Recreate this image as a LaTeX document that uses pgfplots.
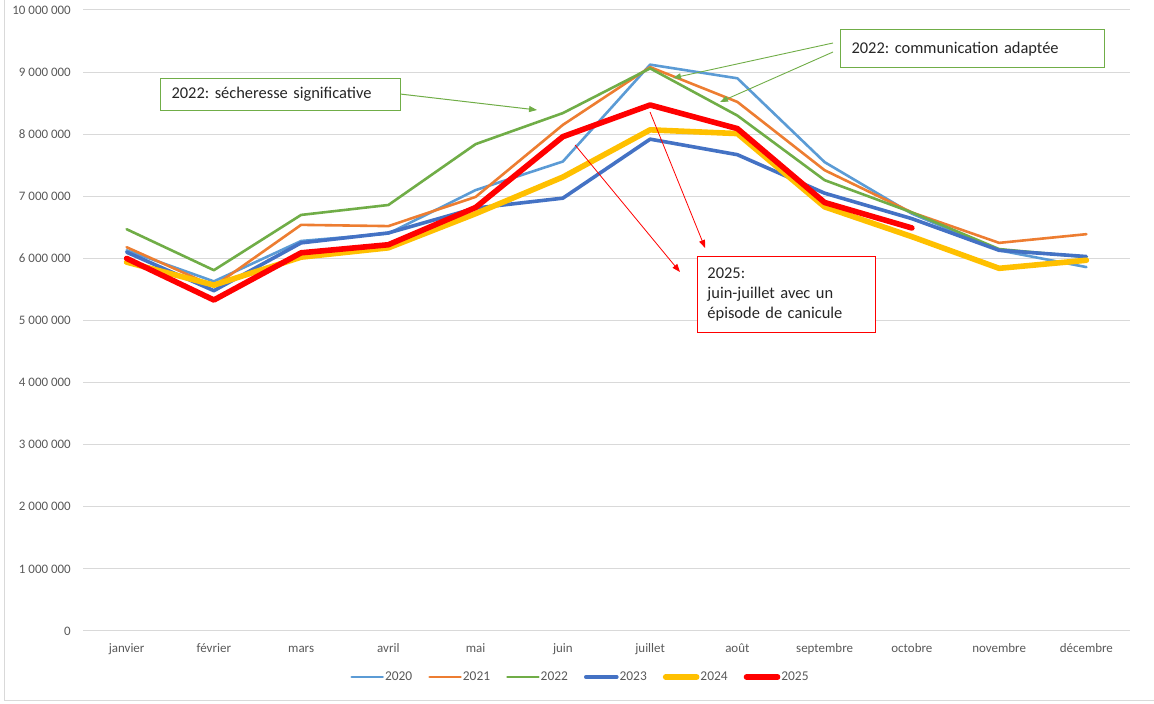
\documentclass[border=0pt]{standalone}
\usepackage{pgfplots}
\pgfplotsset{compat=1.18}
\usepackage{fontspec}
\setmainfont{Carlito}
\frenchspacing
\usetikzlibrary{arrows.meta}
\definecolor{c2020}{HTML}{5B9BD5}
\definecolor{c2021}{HTML}{ED7D31}
\definecolor{c2022}{HTML}{70AD47}
\definecolor{c2023}{HTML}{4472C4}
\definecolor{c2024}{HTML}{FFC000}
\definecolor{c2025}{HTML}{FF0000}
\definecolor{gridc}{HTML}{D9D9D9}
\definecolor{labc}{HTML}{595959}
\begin{document}
\begin{tikzpicture}
\useasboundingbox (0,0) rectangle (1154bp,704bp);
\draw[gridc, line width=1bp] (4.5bp,704bp) -- (4.5bp,3.5bp) -- (1154bp,3.5bp);
\begin{axis}[
  at={(83bp,73bp)}, anchor=south west,
  scale only axis, width=1047bp, height=621bp,
  xmin=-0.5, xmax=11.5, ymin=0, ymax=10000000,
  clip=false,
  axis line style={draw=none},
  major tick length=0pt,
  xtick={0,...,11},
  xticklabels={janvier,février,mars,avril,mai,juin,juillet,août,septembre,octobre,novembre,décembre},
  ytick={0,1000000,2000000,3000000,4000000,5000000,6000000,7000000,8000000,9000000,10000000},
  yticklabels={0,1 000 000,2 000 000,3 000 000,4 000 000,5 000 000,6 000 000,7 000 000,8 000 000,9 000 000,10 000 000},
  scaled y ticks=false,
  ymajorgrids,
  grid style={gridc, line width=1bp},
  yticklabel style={font=\fontsize{13}{15}\selectfont, text=labc, inner sep=0pt, anchor=east, xshift=-12bp},
  xticklabel style={font=\fontsize{13}{15}\selectfont, text=labc, inner sep=0pt, anchor=base, yshift=-22bp},
  legend columns=6,
  legend style={at={(axis description cs:0.4747,-0.0741)}, anchor=center, draw=none, fill=none,
    font=\fontsize{13.5}{15}\selectfont, text=labc,
    /tikz/every even column/.append style={column sep=15bp},
    nodes={inner sep=1bp}},
  legend image code/.code={\draw[#1] (0bp,0bp) -- (31bp,0bp);},
  every axis plot/.append style={line join=round, line cap=round},
]
\addplot[c2020, line width=2.6bp] coordinates {(0,6130000)(1,5630000)(2,6280000)(3,6400000)(4,7100000)(5,7560000)(6,9120000)(7,8900000)(8,7550000)(9,6720000)(10,6130000)(11,5860000)};
\addplot[c2021, line width=2.6bp] coordinates {(0,6180000)(1,5550000)(2,6540000)(3,6520000)(4,6990000)(5,8150000)(6,9080000)(7,8520000)(8,7420000)(9,6740000)(10,6250000)(11,6390000)};
\addplot[c2022, line width=2.6bp] coordinates {(0,6470000)(1,5810000)(2,6700000)(3,6860000)(4,7840000)(5,8340000)(6,9060000)(7,8300000)(8,7260000)(9,6740000)(10,6150000)(11,6020000)};
\addplot[c2023, line width=3.6bp] coordinates {(0,6100000)(1,5480000)(2,6250000)(3,6410000)(4,6810000)(5,6970000)(6,7920000)(7,7670000)(8,7050000)(9,6640000)(10,6130000)(11,6030000)};
\addplot[c2024, line width=5.6bp] coordinates {(0,5940000)(1,5570000)(2,6020000)(3,6170000)(4,6720000)(5,7310000)(6,8070000)(7,8010000)(8,6830000)(9,6350000)(10,5840000)(11,5970000)};
\addplot[c2025, line width=5.6bp] coordinates {(0,6000000)(1,5330000)(2,6090000)(3,6220000)(4,6820000)(5,7960000)(6,8470000)(7,8090000)(8,6900000)(9,6490000)};
\legend{2020,2021,2022,2023,2024,2025}
% annotations
\node[draw=c2022, line width=1bp, fill=white, anchor=west, inner xsep=11bp, inner ysep=0pt,
  text width=218bp, minimum height=32bp, align=left, font=\fontsize{16.5}{19}\selectfont, text=black!85]
  at (axis cs:0.383,8647000) {2022: sécheresse significative};
\draw[c2022, line width=1bp, -{Triangle[length=8bp,width=6bp]}] (axis cs:3.135,8647000) -- (axis cs:4.704,8389700);
\node[draw=c2022, line width=1bp, fill=white, anchor=west, inner xsep=11bp, inner ysep=0pt,
  text width=242bp, minimum height=38bp, align=left, font=\fontsize{16.5}{19}\selectfont, text=black!85]
  at (axis cs:8.177,9372000) {2022: communication adaptée};
\draw[c2022, line width=0.9bp, -{Triangle[length=8bp,width=6bp]}] (axis cs:8.096,9468600) -- (axis cs:6.262,8905000);
\draw[c2022, line width=0.9bp, -{Triangle[length=8bp,width=6bp]}] (axis cs:8.096,9323600) -- (axis cs:6.801,8518500);
\node[draw=c2025, line width=1bp, fill=white, anchor=west, inner xsep=10bp, inner ysep=0pt,
  text width=158bp, minimum height=76bp, align=left, font=\fontsize{16.5}{20.5}\selectfont, text=black!85]
  at (axis cs:6.537,5418700) {2025:\\juin-juillet avec un\\épisode de canicule};
\draw[c2025, line width=0.8bp, -{Triangle[length=8bp,width=6bp]}] (axis cs:5.140,7826000) -- (axis cs:6.342,5781000);
\draw[c2025, line width=0.8bp, -{Triangle[length=8bp,width=6bp]}] (axis cs:5.999,8357500) -- (axis cs:6.630,6167400);
\end{axis}
\end{tikzpicture}
\end{document}
